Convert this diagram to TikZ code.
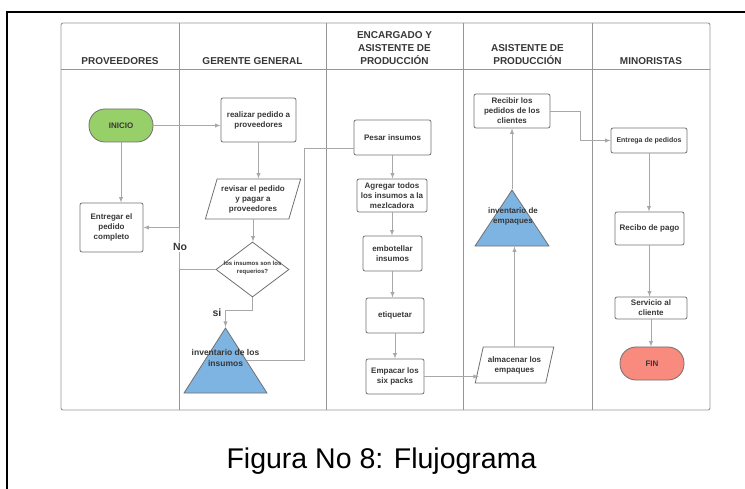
\documentclass[tikz,border=0pt]{standalone}
\usepackage{fontspec}
\setmainfont{Liberation Sans}
\usepackage{tikz}
\usetikzlibrary{shapes, shapes.geometric}
\definecolor{lanegray}{RGB}{150,150,150}
\definecolor{linegray}{RGB}{168,168,168}
\definecolor{boxgray}{RGB}{112,112,112}
\definecolor{txtgray}{RGB}{55,55,55}
\definecolor{startgreen}{RGB}{151,208,104}
\definecolor{endred}{RGB}{249,138,126}
\definecolor{stockblue}{RGB}{126,180,226}
\tikzset{
    normal/.style={draw=boxgray, line width=0.8pt},
    b/.style={style=normal, rounded corners=2pt, inner sep=1pt, align=center, text=txtgray, font=\bfseries\fontsize{8}{10}\selectfont}, % process boxes
    term/.style={style=b, rounded corners=16pt, minimum width=64, minimum height=33}, % start and end
    io/.style={style=b, sharp corners, trapezium, trapezium left angle=70, trapezium right angle=110, trapezium stretches=true},
    dec/.style={style=normal, diamond, inner sep=0, minimum width=73, minimum height=55}, % decision
    tri/.style={style=normal, fill=stockblue, isosceles triangle, shape border rotate=90, isosceles triangle stretches=true, inner sep=0, anchor=apex}, % stock
    head/.style={align=center, text=txtgray, font=\bfseries\fontsize{10}{13}\selectfont},
    lane/.style={draw=lanegray, line width=0.9pt},
    con/.style={draw=linegray, line width=0.9pt}, % connectors
    e/.style={style=con, ->, >=latex},
    yn/.style={text=txtgray, font=\bfseries\fontsize{10.5}{12}\selectfont}
}

\begin{document}
\begin{tikzpicture}[x=1pt, y=-1pt]
        \useasboundingbox (0,0) rectangle (745,489);
        \draw[line width=1.3pt] (7,489) -- (7,12) -- (746,12);

        \draw[lane, rounded corners=2pt] (61,23) rectangle (710,410);
        \draw[lane] (61,69) -- (710,69);
        \foreach \x in {179,326,463,592}
            \draw[lane] (\x,23) -- (\x,410);

        \node[head] (h_prov) at (120,61) {PROVEEDORES};
        \node[head] (h_ger) at (252.5,61) {GERENTE GENERAL};
        \node[head] (h_enc) at (394.5,48) {ENCARGADO Y\\ASISTENTE DE\\PRODUCCIÓN};
        \node[head] (h_asis) at (527.5,54.5) {ASISTENTE DE\\PRODUCCIÓN};
        \node[head] (h_min) at (651,61) {MINORISTAS};

        \node[term, fill=startgreen] (inicio) at (121,125.5) {INICIO};
        \node[b, minimum width=63, minimum height=49] (entregar) at (111.5,227.5) {Entregar el\\pedido\\completo};

        \node[b, minimum width=75, minimum height=44] (realizar) at (258.5,120) {realizar pedido a\\proveedores};
        \node[io, minimum width=96, minimum height=40] (revisar) at (253,199) {revisar el pedido\\y pagar a\\proveedores};
        \node[dec] (decision) at (252.5,269.5) {};
        \node[text=txtgray, align=center, font=\bfseries\fontsize{6}{8}\selectfont] (decision_txt) at (252.5,268) {los insumos son los\\requerios?};
        \node[tri, minimum width=83, minimum height=65] (invins) at (225.5,327) {};
        \node[text=txtgray, align=center, font=\bfseries\fontsize{8.5}{11}\selectfont] (invins_txt) at (225.5,357.5) {inventario de los\\insumos};

        \node[b, minimum width=77, minimum height=35] (pesar) at (392.5,137.5) {Pesar insumos};
        \node[b, minimum width=70, minimum height=33] (agregar) at (392,195.5) {Agregar todos\\los insumos a la\\mezlcadora};
        \node[b, minimum width=59, minimum height=35] (embotellar) at (392.5,253.5) {embotellar\\insumos};
        \node[b, minimum width=58, minimum height=35] (etiquetar) at (395,315.5) {etiquetar};
        \node[b, minimum width=58, minimum height=35] (empacar) at (395,376.5) {Empacar los\\six packs};

        \node[b, minimum width=76, minimum height=34] (recibir) at (512,111) {Recibir los\\pedidos de los\\clientes};
        \node[tri, minimum width=74, minimum height=56] (invemp) at (512,189) {};
        \node[text=txtgray, align=center, font=\bfseries\fontsize{8}{10}\selectfont] (invemp_txt) at (513,216) {inventario de\\empaques};
        \node[io, minimum width=79, minimum height=36] (almacenar) at (514.5,365) {almacenar los\\empaques};

        \node[b, minimum width=76, minimum height=25, font=\bfseries\fontsize{7}{9}\selectfont] (entrega) at (649,140.5) {Entrega de pedidos};
        \node[b, minimum width=69, minimum height=33] (recibo) at (649.5,228.5) {Recibo de pago};
        \node[b, minimum width=72, minimum height=22] (servicio) at (651,308) {Servicio al\\cliente};
        \node[term, fill=endred] (fin) at (652,363.5) {FIN};

        \draw[e] (inicio.east) -- (inicio.east -| realizar.west);
        \draw[e] (inicio.south) -- (inicio.south |- entregar.north);
        \draw[e] (realizar.south) -- (realizar.south |- revisar.north);
        \draw[e] (revisar.south) -- (revisar.south |- decision.north);
        \draw[e] (decision.west) -- ++(-36,0) |- (entregar.east);
        \draw[e] (decision.south) -- ++(0,13) -| (invins.apex);
        \draw[con] (invins.right side) -| ([xshift=-49pt, yshift=-10.5pt]pesar.west) -- ([yshift=-10.5pt]pesar.west);

        \draw[e] (pesar.south) -- (pesar.south |- agregar.north);
        \draw[e] (agregar.south) -- (agregar.south |- embotellar.north);
        \draw[e] (embotellar.south) -- (embotellar.south |- etiquetar.north);
        \draw[e] (etiquetar.south) -- (etiquetar.south |- empacar.north);
        \draw[e] (empacar.east) -- (empacar.east -| almacenar.west);

        \draw[e] (almacenar.north) -- (almacenar.north |- invemp.lower side);
        \draw[e] (invemp.apex) -- (invemp.apex |- recibir.south);
        \draw[e] (recibir.east) -- ++(30,0) |- (entrega.west);

        \draw[e] (entrega.south) -- (entrega.south |- recibo.north);
        \draw[e] (recibo.south) -- (recibo.south |- servicio.north);
        \draw[e] (servicio.south) -- (servicio.south |- fin.north);

        \node[yn, fill=white, inner sep=1pt] (no) at (180,247) {No};
        \node[yn] (si) at (217,313) {si};

        \node[font=\fontsize{28.5}{34}\selectfont] (caption) at (381.5,461) {Figura No 8: Flujograma};
\end{tikzpicture}
\end{document}
